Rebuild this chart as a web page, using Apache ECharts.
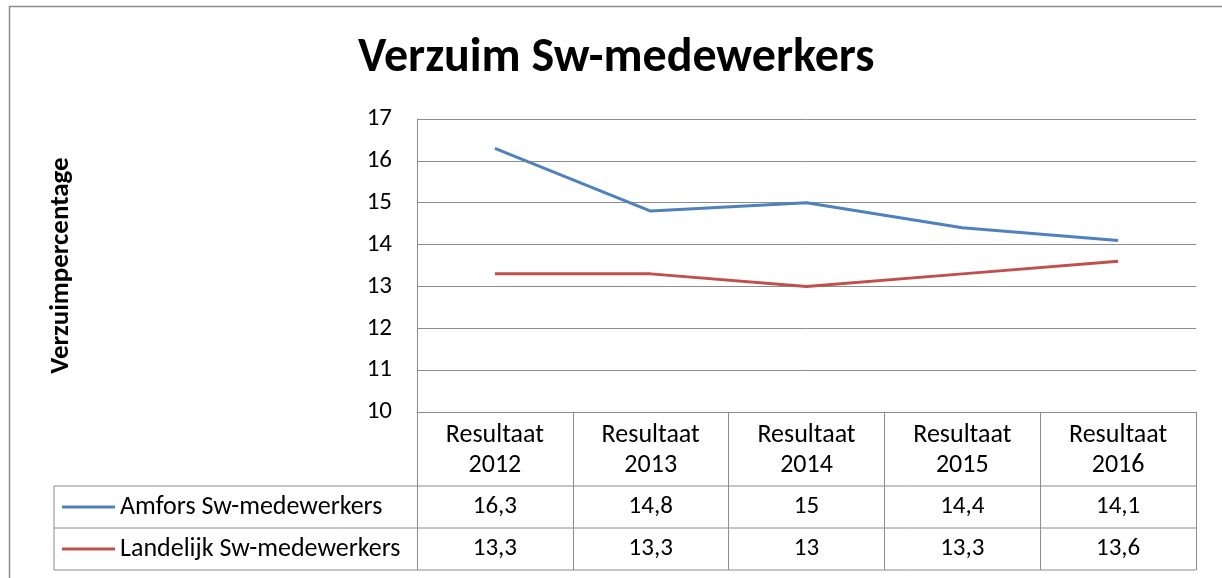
<!DOCTYPE html>
<html lang="nl">
<head>
<meta charset="utf-8">
<title>Verzuim Sw-medewerkers</title>
<style>
  html, body { margin: 0; padding: 0; background: #fff; }
  #chart { width: 1222px; height: 578px; }
</style>
</head>
<body>
<div id="chart"></div>
<script src="https://cdn.jsdelivr.net/npm/echarts@6/dist/echarts.min.js"></script>
<script>
var categories = ['Resultaat\n2012', 'Resultaat\n2013', 'Resultaat\n2014', 'Resultaat\n2015', 'Resultaat\n2016'];
var amfors = [16.3, 14.8, 15, 14.4, 14.1];
var landelijk = [13.3, 13.3, 13, 13.3, 13.6];
var seriesNames = ['Amfors Sw-medewerkers', 'Landelijk Sw-medewerkers'];

var FONT = 'Carlito, Lato, sans-serif';
var GRID_LEFT = 417, GRID_RIGHT = 26, GRID_TOP = 119, GRID_BOTTOM = 166;
var TABLE_LEFT = 54;
var ROW_H = 42, HEAD_H = 74;
var lineCol = '#8c8c8c';
var FS = 25;

function fmt(v) { return String(v).replace('.', ','); }

var chart = echarts.init(document.getElementById('chart'));

var W = 1222, H = 578;
var axisY = H - GRID_BOTTOM;
var right = W - GRID_RIGHT;
var row1 = axisY + HEAD_H, row2 = row1 + ROW_H, row3 = row2 + ROW_H;

chart.setOption({
  animation: false,
  textStyle: { fontFamily: FONT },
  title: {
    text: 'Verzuim Sw-medewerkers',
    left: 353, top: 30,
    textStyle: { fontFamily: FONT, fontSize: 48, fontWeight: 'bold', color: '#000' }
  },
  legend: {
    orient: 'vertical',
    left: 62, top: row1 + 6,
    padding: 0,
    icon: 'rect',
    itemWidth: 53, itemHeight: 3,
    itemGap: 12,
    textStyle: { fontFamily: FONT, fontSize: 26, color: '#000', lineHeight: 30, padding: [0, 0, 0, 0] },
    data: seriesNames
  },
  grid: { left: GRID_LEFT, right: GRID_RIGHT, top: GRID_TOP, bottom: GRID_BOTTOM },
  xAxis: [
    {
      type: 'category', data: categories, boundaryGap: true,
      axisLine: { lineStyle: { color: lineCol, width: 1 } },
      axisTick: { show: true, length: row3 - axisY, lineStyle: { color: lineCol } },
      axisLabel: { fontFamily: FONT, fontSize: 26, color: '#000', lineHeight: 30, margin: 8 }
    },
    {
      type: 'category', data: amfors.map(fmt), position: 'bottom', offset: HEAD_H,
      axisLine: { show: false }, axisTick: { show: false },
      axisLabel: { fontFamily: FONT, fontSize: FS, color: '#000', lineHeight: 30, margin: 6 }
    },
    {
      type: 'category', data: landelijk.map(fmt), position: 'bottom', offset: HEAD_H + ROW_H,
      axisLine: { show: false }, axisTick: { show: false },
      axisLabel: { fontFamily: FONT, fontSize: FS, color: '#000', lineHeight: 30, margin: 6 }
    }
  ],
  yAxis: {
    type: 'value', min: 10, max: 17, interval: 1,
    name: 'Verzuimpercentage', nameLocation: 'middle', nameRotate: 90, nameGap: 342,
    nameTextStyle: { fontFamily: FONT, fontSize: 27, fontWeight: 'bold', color: '#000' },
    axisLine: { show: true, lineStyle: { color: lineCol } },
    axisTick: { show: false },
    splitLine: { lineStyle: { color: lineCol, width: 1 } },
    axisLabel: { fontFamily: FONT, fontSize: FS, color: '#000', margin: 25 }
  },
  series: [
    {
      name: seriesNames[0], type: 'line', data: amfors, xAxisIndex: 0,
      symbol: 'none', color: '#4f81bd', lineStyle: { width: 3, color: '#4f81bd' }
    },
    {
      name: seriesNames[1], type: 'line', data: landelijk, xAxisIndex: 0,
      symbol: 'none', color: '#c0504d', lineStyle: { width: 3, color: '#c0504d' }
    }
  ],
  graphic: [
    { type: 'rect', shape: { x: 9.5, y: 6.5, width: 1400, height: 800 }, style: { fill: 'none', stroke: '#8c8c8c', lineWidth: 1.5 }, silent: true },
    { type: 'line', shape: { x1: TABLE_LEFT, y1: row1, x2: right, y2: row1 }, style: { stroke: lineCol, lineWidth: 1 } },
    { type: 'line', shape: { x1: TABLE_LEFT, y1: row2, x2: right, y2: row2 }, style: { stroke: lineCol, lineWidth: 1 } },
    { type: 'line', shape: { x1: TABLE_LEFT, y1: row3, x2: right, y2: row3 }, style: { stroke: lineCol, lineWidth: 1 } },
    { type: 'line', shape: { x1: TABLE_LEFT, y1: row1, x2: TABLE_LEFT, y2: row3 }, style: { stroke: lineCol, lineWidth: 1 } }
  ]
});
</script>
</body>
</html>
